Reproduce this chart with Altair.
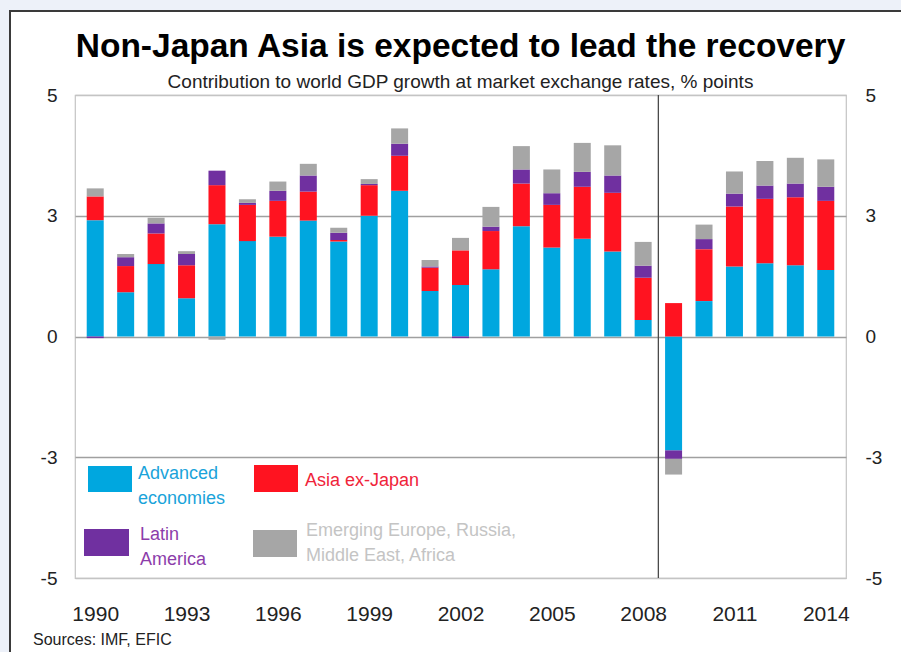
import altair as alt
import pandas as pd

# ---------------- data ----------------
years = list(range(1990, 2015))
advanced = [2.89, 1.10, 1.80, 0.95, 2.79, 2.37, 2.48, 2.88, 2.36, 3.00, 3.62, 1.13, 1.28,
            1.67, 2.74, 2.21, 2.43, 2.11, 0.41, -2.83, 0.88, 1.74, 1.82, 1.77, 1.65]
asia_ex_japan = [0.59, 0.65, 0.76, 0.82, 0.97, 0.90, 0.89, 0.72, 0.04, 0.76, 0.87, 0.58, 0.86,
                 0.95, 1.06, 1.06, 1.29, 1.46, 1.05, 0.83, 1.29, 1.49, 1.60, 1.69, 1.72]
latin_america = [-0.04, 0.22, 0.25, 0.28, 0.36, 0.05, 0.25, 0.40, 0.18, 0.03, 0.30, 0.03, -0.04,
                 0.11, 0.35, 0.29, 0.37, 0.43, 0.30, -0.21, 0.25, 0.32, 0.33, 0.34, 0.35]
emerging_other = [0.20, 0.08, 0.14, 0.07, -0.08, 0.09, 0.23, 0.29, 0.12, 0.12, 0.38, 0.16, 0.31,
                  0.49, 0.58, 0.59, 0.72, 0.75, 0.59, -0.39, 0.36, 0.55, 0.61, 0.64, 0.68]

series_names = ["Advanced economies", "Asia ex-Japan", "Latin America",
                "Emerging Europe, Russia, Middle East, Africa"]
series_colors = ["#00A7DF", "#FF1320", "#7030A0", "#A6A6A6"]
legend_text_colors = ["#1AA3DA", "#F0243A", "#8C3DAA", "#C4C4C4"]
legend_lines = [["Advanced", "economies"], ["Asia ex-Japan"], ["Latin", "America"],
                ["Emerging Europe, Russia,", "Middle East, Africa"]]

x_label_years = [1990, 1993, 1996, 1999, 2002, 2005, 2008, 2011, 2014]
y_tick_values = [-6, -3, 0, 3, 6]
y_tick_labels = ["-5", "-3", "0", "3", "5"]
forecast_divider = [2008.5]

title_text = "Non-Japan Asia is expected to lead the recovery"
subtitle_text = "Contribution to world GDP growth at market exchange rates, % points"
source_text = "Sources: IMF, EFIC"

# ---------------- build table ----------------
rows = []
all_series = [advanced, asia_ex_japan, latin_america, emerging_other]
for i, yr in enumerate(years):
    for k, (name, vals) in enumerate(zip(series_names, all_series)):
        rows.append({"year": yr, "series": name, "value": vals[i], "order": k})
df = pd.DataFrame(rows)

label_expr = " : ".join(f"datum.value == {v} ? '{l}'" for v, l in zip(y_tick_values, y_tick_labels)) + " : ''"

FONT = "Liberation Sans, Arial, sans-serif"
NARROW = "Liberation Sans Narrow, Arial Narrow, Liberation Sans, sans-serif"

xscale = alt.Scale(domain=[1989.5, 2014.5], nice=False, zero=False)
yscale = alt.Scale(domain=[-6, 6], nice=False)

x_axis = alt.Axis(values=x_label_years, format="d", title=None, grid=False, ticks=False,
                  domain=False, labelFontSize=21, labelPadding=25, labelColor="#222",
                  labelFont=FONT)

grid_color = {"condition": {"test": "abs(datum.value) == 6", "value": "#C4C4C4"}, "value": "#A0A0A0"}

bars = alt.Chart(df).mark_bar(size=17).encode(
    x=alt.X("year:Q", scale=xscale, axis=x_axis),
    y=alt.Y("value:Q", stack="zero", scale=yscale,
            axis=alt.Axis(orient="left", values=y_tick_values, labelExpr=label_expr, title=None,
                          ticks=False, domain=False, grid=True, gridColor=grid_color,
                          gridWidth=1.3, labelFontSize=19, labelPadding=18, labelColor="#222",
                          labelFont=FONT)),
    color=alt.Color("series:N", scale=alt.Scale(domain=series_names, range=series_colors),
                    legend=None),
    order=alt.Order("order:Q", sort="ascending"),
)

right_axis = alt.Chart(pd.DataFrame({"tick": y_tick_values})).mark_point(opacity=0).encode(
    x=alt.value(0),
    y=alt.Y("tick:Q", scale=yscale,
            axis=alt.Axis(orient="right", values=y_tick_values, labelExpr=label_expr, title=None,
                          ticks=False, domain=False, grid=False, labelFontSize=19,
                          labelPadding=19, labelColor="#222", labelFont=FONT)),
)

divider = alt.Chart(pd.DataFrame({"x": forecast_divider})).mark_rule(
    color="#4A4A4A", strokeWidth=1.3).encode(x=alt.X("x:Q", scale=xscale, axis=x_axis))

one = pd.DataFrame({"k": [0]})

# legend (drawn inside the plot area, lower left)
legend_pos = [
    # swatch x0, x1, y0, y1, text x, text y
    (13, 57, 371, 397, 63, 370),
    (179, 223, 370, 397, 230, 377),
    (9, 54, 434, 461, 65, 431),
    (178, 222, 435, 462, 231, 427),
]
legend_layers = []
for (x0, x1, y0, y1, tx, ty), col, tcol, lines in zip(legend_pos, series_colors,
                                                      legend_text_colors, legend_lines):
    legend_layers.append(alt.Chart(one).mark_rect(color=col).encode(
        x=alt.value(x0), x2=alt.value(x1), y=alt.value(y0), y2=alt.value(y1)))
    legend_layers.append(alt.Chart(one).mark_text(
        text=lines, align="left", baseline="top", fontSize=18, lineHeight=25,
        color=tcol, font=FONT).encode(x=alt.value(tx), y=alt.value(ty)))

sources = alt.Chart(one).mark_text(text=source_text, align="left", baseline="middle",
                                   fontSize=16, color="#222", font=FONT).encode(
    x=alt.value(-42), y=alt.value(545))

# title and subtitle (as text marks centred over the plot)
title = alt.Chart(one).mark_text(text=title_text, align="center", baseline="alphabetic",
                                 fontSize=33.5, fontWeight="bold", color="#000",
                                 font=NARROW).encode(x=alt.value(385.5), y=alt.value(-38))
subtitle = alt.Chart(one).mark_text(text=subtitle_text, align="center", baseline="alphabetic",
                                    fontSize=19, color="#222", font=FONT).encode(
    x=alt.value(385.5), y=alt.value(-7))

# outer frame decoration
frame = [
    alt.Chart(one).mark_rect(color="#EDF1F9").encode(
        x=alt.value(-75), x2=alt.value(826), y=alt.value(-95), y2=alt.value(-85)),
    alt.Chart(one).mark_rect(color="#EDF1F9").encode(
        x=alt.value(-75), x2=alt.value(-66), y=alt.value(-95), y2=alt.value(557)),
    alt.Chart(one).mark_rect(color="#3A3A3A").encode(
        x=alt.value(-66), x2=alt.value(826), y=alt.value(-85), y2=alt.value(-83)),
    alt.Chart(one).mark_rect(color="#3A3A3A").encode(
        x=alt.value(-66), x2=alt.value(-64), y=alt.value(-85), y2=alt.value(557)),
]

chart = alt.layer(
    divider, bars, right_axis, *legend_layers, sources, title, subtitle, *frame
).resolve_scale(y="shared").resolve_axis(y="independent").properties(
    width=771, height=483,
    autosize=alt.AutoSizeParams(type="none"),
    padding={"left": 75, "top": 95, "right": 55, "bottom": 74},
    background="white",
).configure_view(stroke="#C4C4C4", strokeWidth=1.2)

chart.save("out.html", embed_options={"renderer": "svg", "actions": False})
